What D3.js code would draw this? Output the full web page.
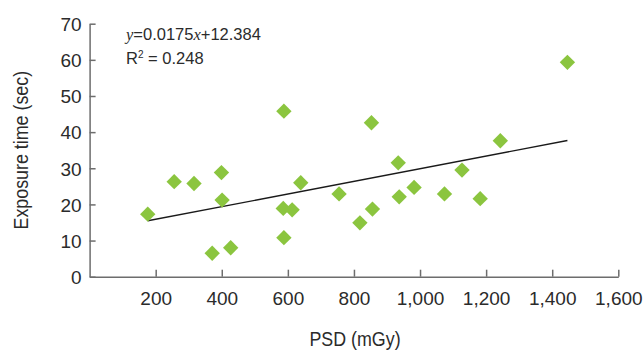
<!DOCTYPE html>
<html>
<head>
<meta charset="utf-8">
<script src="https://cdn.jsdelivr.net/npm/d3@7"></script>
<style>
  body { margin: 0; background: #fff; }
  svg { display: block; }
  text { fill: #2b2b2b; }
</style>
</head>
<body>
<svg width="644" height="351"></svg>
<script>
// values
const psd = [176, 256, 316, 399, 401, 371, 427, 588, 853, 639, 755, 586, 613, 856, 818, 588, 934, 1243, 1127, 982, 937, 1074, 1182, 1446];
const exposure = [17.3, 26.3, 25.8, 28.8, 21.2, 6.5, 8.0, 45.8, 42.6, 26.0, 22.9, 18.9, 18.5, 18.7, 14.9, 10.8, 31.5, 37.6, 29.5, 24.7, 22.1, 22.9, 21.6, 59.3];
const xTicks = [200, 400, 600, 800, 1000, 1200, 1400, 1600];
const yTicks = [0, 10, 20, 30, 40, 50, 60, 70];
const slope = 0.0175;
const intercept = 12.384;
const r2 = "0.248";

const svg = d3.select("svg");
const font = "'Liberation Sans', Arial, sans-serif";
const axisColor = "#6d6d6d";

const x = d3.scaleLinear().domain([0, 1600]).range([89.6, 618.3]);
const y = d3.scaleLinear().domain([0, 70]).range([276.7, 23.7]);

const points = psd.map((d, i) => ({ x: d, y: exposure[i] }));

// x axis, ticks pointing inward
const gx = svg.append("g")
  .attr("transform", `translate(0,${y(0)})`)
  .call(d3.axisBottom(x).tickValues(xTicks).tickFormat(d3.format(",")).tickSizeInner(-7).tickSizeOuter(0));

gx.select(".domain").attr("stroke", axisColor).attr("stroke-width", 1.5);
gx.selectAll(".tick line").attr("stroke", axisColor).attr("stroke-width", 1.5);
gx.selectAll(".tick text")
  .attr("y", 28).attr("dy", null)
  .style("font-family", font).style("font-size", "19px").attr("fill", "#2b2b2b");

const gy = svg.append("g")
  .attr("transform", `translate(${x(0)},0)`)
  .call(d3.axisLeft(y).tickValues(yTicks).tickSizeInner(-6).tickSizeOuter(0));

gy.select(".domain").attr("stroke", axisColor).attr("stroke-width", 1.5);
gy.selectAll(".tick line").attr("stroke", axisColor).attr("stroke-width", 1.5);
gy.selectAll(".tick text")
  .attr("x", -8).attr("dy", "0.36em")
  .style("font-family", font).style("font-size", "19px").attr("fill", "#2b2b2b");

// trend line
const xr = d3.extent(psd);
svg.append("line")
  .attr("x1", x(xr[0])).attr("y1", y(slope * xr[0] + intercept))
  .attr("x2", x(xr[1])).attr("y2", y(slope * xr[1] + intercept))
  .attr("stroke", "#1a1a1a").attr("stroke-width", 1.4);

// diamonds
const diamond = d3.symbol(d3.symbolSquare, 118);
svg.append("g")
  .selectAll("path")
  .data(points)
  .join("path")
  .attr("d", diamond)
  .attr("transform", (d) => `translate(${x(d.x)},${y(d.y)}) rotate(45)`)
  .attr("fill", "#8bc53f");

// equation
const eq = svg.append("text")
  .attr("x", 126).attr("y", 40)
  .style("font-family", font).style("font-size", "16.5px");
eq.append("tspan").text("y").style("font-family", "'Liberation Serif', serif").style("font-style", "italic");
eq.append("tspan").text("=" + slope);
eq.append("tspan").text("x").style("font-family", "'Liberation Serif', serif").style("font-style", "italic");
eq.append("tspan").text("+" + intercept);

const rt = svg.append("text")
  .attr("x", 126).attr("y", 64)
  .style("font-family", font).style("font-size", "16.5px");
rt.append("tspan").text("R");
rt.append("tspan").text("2").attr("dy", -6).style("font-size", "10px");
rt.append("tspan").text(" = " + r2).attr("dy", 6);

// axis titles, narrow like the original
svg.append("text")
  .attr("transform", "translate(355,346) scale(0.85,1)")
  .attr("text-anchor", "middle")
  .style("font-family", font).style("font-size", "21px")
  .text("PSD (mGy)");

svg.append("text")
  .attr("transform", `translate(28,${(y(0) + y(70)) / 2}) rotate(-90) scale(0.85,1)`)
  .attr("text-anchor", "middle")
  .style("font-family", font).style("font-size", "21px")
  .text("Exposure time (sec)");
</script>
</body>
</html>
